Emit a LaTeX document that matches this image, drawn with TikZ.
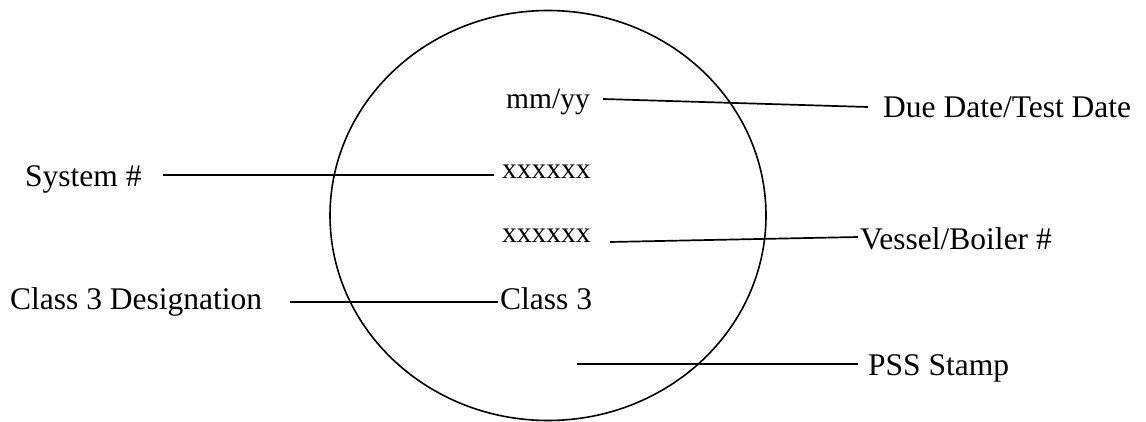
\documentclass[tikz,border=0pt]{standalone}
\usepackage{fontspec}
\setmainfont{Liberation Serif}
\usetikzlibrary{shapes.geometric}
\begin{document}
\begin{tikzpicture}[x=1pt,y=-1pt,
  lbl/.style={inner sep=0pt,anchor=base west,font=\fontsize{31.5}{36}\selectfont},
  sml/.style={inner sep=0pt,anchor=base west,font=\fontsize{29.5}{34}\selectfont},
  ln/.style={line width=1.7pt,draw=black}]
\useasboundingbox (0,0) rectangle (1146,422);
\node[ellipse,draw,line width=1.6pt,minimum width=436pt,minimum height=410pt,inner sep=0pt] (stamp) at (548,215.5) {};
% inner texts
\node[sml] (mmyy) at (506,109) {mm/yy};
\node[sml] (xa) at (502,179) {xxxxxx};
\node[sml] (xb) at (502,243) {xxxxxx};
\node[lbl] (cl) at (500,309) {Class 3};
% outer labels
\node[lbl] (due) at (883,118) {Due Date/Test Date};
\node[lbl] (sys) at (25,187) {System \#};
\node[lbl] (ves) at (860,250) {Vessel/Boiler \#};
\node[lbl] (cld) at (10,309) {Class 3 Designation};
\node[lbl] (pss) at (868,375) {PSS Stamp};
% line ends
\coordinate (a1) at (603,99);  \coordinate (a2) at (868,107);
\coordinate (b1) at (163,175); \coordinate (b2) at (494,175);
\coordinate (c1) at (610,242); \coordinate (c2) at (858,237);
\coordinate (d1) at (290,302); \coordinate (d2) at (498,302);
\coordinate (e1) at (577,364); \coordinate (e2) at (858,364);
\draw[ln] (a1) -- (a2);
\draw[ln] (b1) -- (b2);
\draw[ln] (c1) -- (c2);
\draw[ln] (d1) -- (d2);
\draw[ln] (e1) -- (e2);
\end{tikzpicture}
\end{document}
